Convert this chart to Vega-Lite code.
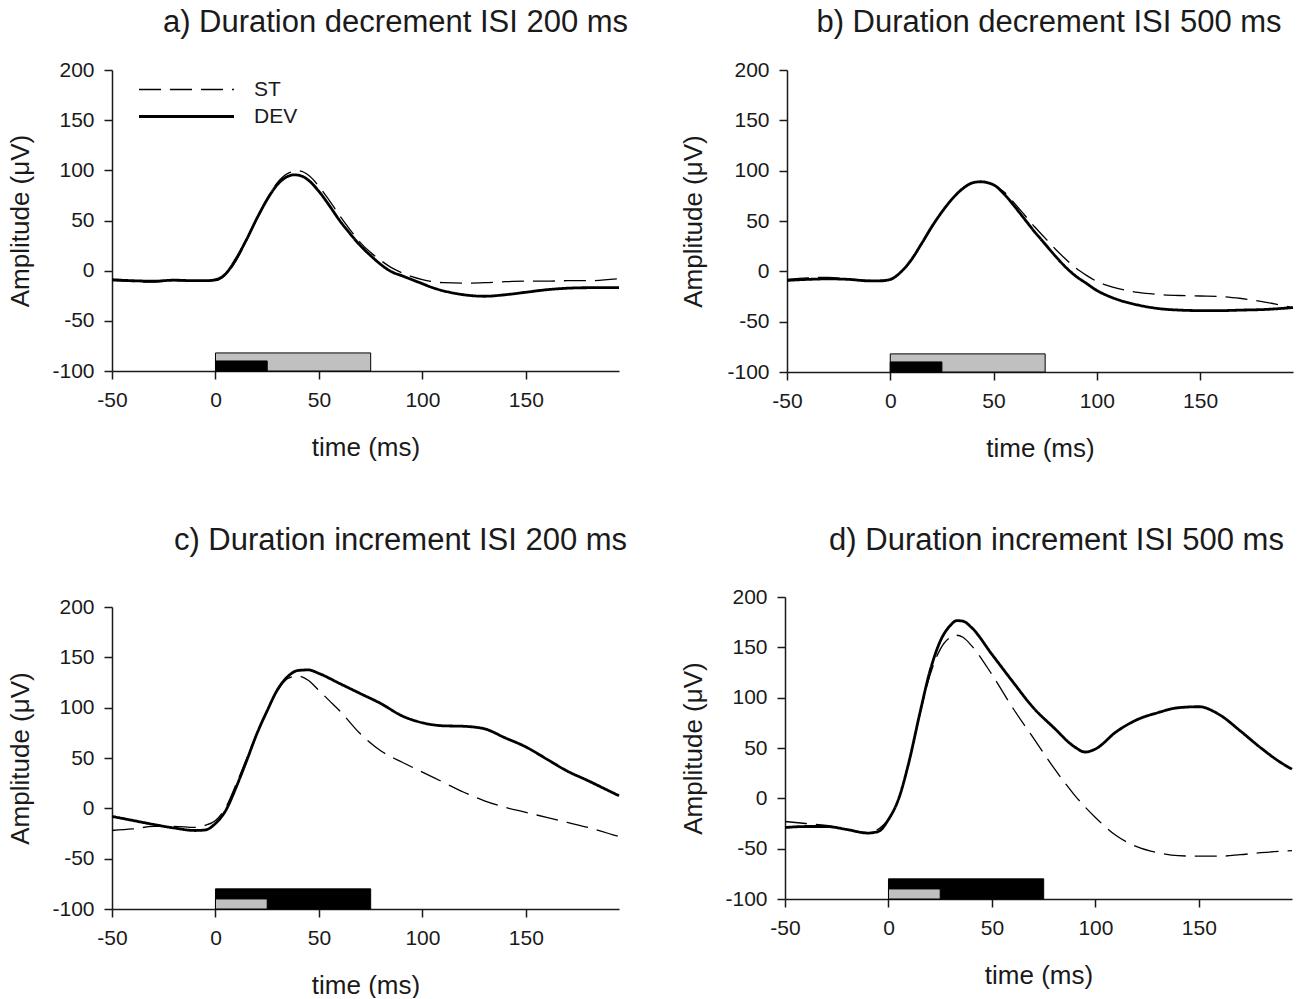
{
  "$schema": "https://vega.github.io/schema/vega-lite/v6.json",
  "background": "white",
  "padding": {"left": 7, "top": 7, "right": 0, "bottom": 0},
  "config": {
    "font": "Liberation Sans",
    "view": {"stroke": null},
    "axis": {"grid": false, "domainColor": "#1a1a1a", "tickColor": "#1a1a1a", "domainWidth": 1.5, "tickWidth": 1.5, "tickSize": 8, "labelFontSize": 21, "labelColor": "#1a1a1a", "labelPadding": 10, "labelFlush": false, "labelOverlap": false, "titleFontSize": 26, "titleFontWeight": "normal", "titleColor": "#1a1a1a", "labelFont": "Liberation Sans", "titleFont": "Liberation Sans", "labelExpr": "replace(datum.label, '−', '-')"},
    "axisX": {"titlePadding": 24},
    "axisY": {"titlePadding": 18},
    "title": {"fontSize": 31, "fontWeight": "normal", "color": "#1a1a1a", "font": "Liberation Sans", "frame": "group", "anchor": "middle"}
  },
  "datasets": {
    "bars": [
      {"panel": "a", "stimulus": "ST", "start": 0, "end": 75, "low": -100, "high": -82},
      {"panel": "a", "stimulus": "DEV", "start": 0, "end": 25, "low": -100, "high": -90},
      {"panel": "b", "stimulus": "ST", "start": 0, "end": 75, "low": -100, "high": -82},
      {"panel": "b", "stimulus": "DEV", "start": 0, "end": 25, "low": -100, "high": -90},
      {"panel": "c", "stimulus": "DEV", "start": 0, "end": 75, "low": -100, "high": -80},
      {"panel": "c", "stimulus": "ST", "start": 0, "end": 25, "low": -100, "high": -90},
      {"panel": "d", "stimulus": "DEV", "start": 0, "end": 75, "low": -100, "high": -80},
      {"panel": "d", "stimulus": "ST", "start": 0, "end": 25, "low": -100, "high": -90}
    ],
    "curves": [
      {"panel":"a","series":"ST","time":-50,"amp":-10},{"panel":"a","series":"ST","time":-40,"amp":-11},{"panel":"a","series":"ST","time":-30,"amp":-11.5},{"panel":"a","series":"ST","time":-20,"amp":-10},{"panel":"a","series":"ST","time":-10,"amp":-10.5},{"panel":"a","series":"ST","time":0,"amp":-10},{"panel":"a","series":"ST","time":5,"amp":-4},{"panel":"a","series":"ST","time":10,"amp":10},{"panel":"a","series":"ST","time":15,"amp":30},{"panel":"a","series":"ST","time":20,"amp":52},{"panel":"a","series":"ST","time":25,"amp":72},{"panel":"a","series":"ST","time":30,"amp":88},{"panel":"a","series":"ST","time":35,"amp":97},{"panel":"a","series":"ST","time":40,"amp":99.5},{"panel":"a","series":"ST","time":45,"amp":95},{"panel":"a","series":"ST","time":50,"amp":84},{"panel":"a","series":"ST","time":55,"amp":70},{"panel":"a","series":"ST","time":60,"amp":55},{"panel":"a","series":"ST","time":65,"amp":41},{"panel":"a","series":"ST","time":70,"amp":28},{"panel":"a","series":"ST","time":75,"amp":18},{"panel":"a","series":"ST","time":80,"amp":10},{"panel":"a","series":"ST","time":85,"amp":3},{"panel":"a","series":"ST","time":90,"amp":-2},{"panel":"a","series":"ST","time":95,"amp":-6},{"panel":"a","series":"ST","time":100,"amp":-9},{"panel":"a","series":"ST","time":105,"amp":-11},{"panel":"a","series":"ST","time":110,"amp":-12},{"panel":"a","series":"ST","time":120,"amp":-12.5},{"panel":"a","series":"ST","time":130,"amp":-12},{"panel":"a","series":"ST","time":140,"amp":-11},{"panel":"a","series":"ST","time":150,"amp":-10.5},{"panel":"a","series":"ST","time":160,"amp":-10.5},{"panel":"a","series":"ST","time":170,"amp":-10},{"panel":"a","series":"ST","time":180,"amp":-10},{"panel":"a","series":"ST","time":195,"amp":-8},
      {"panel":"a","series":"DEV","time":-50,"amp":-9},{"panel":"a","series":"DEV","time":-40,"amp":-10},{"panel":"a","series":"DEV","time":-30,"amp":-10.5},{"panel":"a","series":"DEV","time":-20,"amp":-9.5},{"panel":"a","series":"DEV","time":-10,"amp":-10},{"panel":"a","series":"DEV","time":-5,"amp":-10},{"panel":"a","series":"DEV","time":0,"amp":-9},{"panel":"a","series":"DEV","time":5,"amp":-3},{"panel":"a","series":"DEV","time":10,"amp":12},{"panel":"a","series":"DEV","time":15,"amp":31},{"panel":"a","series":"DEV","time":20,"amp":52},{"panel":"a","series":"DEV","time":25,"amp":71},{"panel":"a","series":"DEV","time":30,"amp":86},{"panel":"a","series":"DEV","time":35,"amp":94},{"panel":"a","series":"DEV","time":38,"amp":95.5},{"panel":"a","series":"DEV","time":42,"amp":94},{"panel":"a","series":"DEV","time":45,"amp":90},{"panel":"a","series":"DEV","time":50,"amp":79},{"panel":"a","series":"DEV","time":55,"amp":65},{"panel":"a","series":"DEV","time":60,"amp":50},{"panel":"a","series":"DEV","time":65,"amp":37},{"panel":"a","series":"DEV","time":70,"amp":25},{"panel":"a","series":"DEV","time":75,"amp":15},{"panel":"a","series":"DEV","time":80,"amp":6},{"panel":"a","series":"DEV","time":85,"amp":-1},{"panel":"a","series":"DEV","time":90,"amp":-5},{"panel":"a","series":"DEV","time":95,"amp":-9},{"panel":"a","series":"DEV","time":100,"amp":-13},{"panel":"a","series":"DEV","time":105,"amp":-17},{"panel":"a","series":"DEV","time":110,"amp":-20},{"panel":"a","series":"DEV","time":120,"amp":-24},{"panel":"a","series":"DEV","time":130,"amp":-25.5},{"panel":"a","series":"DEV","time":140,"amp":-24},{"panel":"a","series":"DEV","time":150,"amp":-21.5},{"panel":"a","series":"DEV","time":160,"amp":-19},{"panel":"a","series":"DEV","time":170,"amp":-17.5},{"panel":"a","series":"DEV","time":180,"amp":-17},{"panel":"a","series":"DEV","time":195,"amp":-17},
      {"panel":"b","series":"ST","time":-50,"amp":-8},{"panel":"b","series":"ST","time":-40,"amp":-6.5},{"panel":"b","series":"ST","time":-30,"amp":-6},{"panel":"b","series":"ST","time":-20,"amp":-8},{"panel":"b","series":"ST","time":-10,"amp":-9},{"panel":"b","series":"ST","time":0,"amp":-8.5},{"panel":"b","series":"ST","time":5,"amp":-1},{"panel":"b","series":"ST","time":10,"amp":10},{"panel":"b","series":"ST","time":15,"amp":26},{"panel":"b","series":"ST","time":20,"amp":43},{"panel":"b","series":"ST","time":25,"amp":59},{"panel":"b","series":"ST","time":30,"amp":72},{"panel":"b","series":"ST","time":35,"amp":82},{"panel":"b","series":"ST","time":40,"amp":88},{"panel":"b","series":"ST","time":44,"amp":89},{"panel":"b","series":"ST","time":50,"amp":86},{"panel":"b","series":"ST","time":55,"amp":79},{"panel":"b","series":"ST","time":60,"amp":68},{"panel":"b","series":"ST","time":65,"amp":56},{"panel":"b","series":"ST","time":70,"amp":44},{"panel":"b","series":"ST","time":75,"amp":33},{"panel":"b","series":"ST","time":80,"amp":22},{"panel":"b","series":"ST","time":85,"amp":12},{"panel":"b","series":"ST","time":90,"amp":3},{"panel":"b","series":"ST","time":95,"amp":-4},{"panel":"b","series":"ST","time":100,"amp":-10},{"panel":"b","series":"ST","time":105,"amp":-14},{"panel":"b","series":"ST","time":110,"amp":-17},{"panel":"b","series":"ST","time":120,"amp":-21},{"panel":"b","series":"ST","time":130,"amp":-23},{"panel":"b","series":"ST","time":140,"amp":-24},{"panel":"b","series":"ST","time":150,"amp":-24.5},{"panel":"b","series":"ST","time":160,"amp":-25},{"panel":"b","series":"ST","time":170,"amp":-27},{"panel":"b","series":"ST","time":180,"amp":-30},{"panel":"b","series":"ST","time":190,"amp":-34},{"panel":"b","series":"ST","time":195,"amp":-36},
      {"panel":"b","series":"DEV","time":-50,"amp":-9},{"panel":"b","series":"DEV","time":-40,"amp":-8},{"panel":"b","series":"DEV","time":-30,"amp":-7.5},{"panel":"b","series":"DEV","time":-20,"amp":-8},{"panel":"b","series":"DEV","time":-10,"amp":-9.5},{"panel":"b","series":"DEV","time":-5,"amp":-9.5},{"panel":"b","series":"DEV","time":0,"amp":-8},{"panel":"b","series":"DEV","time":5,"amp":-1},{"panel":"b","series":"DEV","time":10,"amp":11},{"panel":"b","series":"DEV","time":15,"amp":27},{"panel":"b","series":"DEV","time":20,"amp":44},{"panel":"b","series":"DEV","time":25,"amp":59},{"panel":"b","series":"DEV","time":30,"amp":72},{"panel":"b","series":"DEV","time":35,"amp":82},{"panel":"b","series":"DEV","time":40,"amp":88},{"panel":"b","series":"DEV","time":44,"amp":89},{"panel":"b","series":"DEV","time":48,"amp":87.5},{"panel":"b","series":"DEV","time":50,"amp":86},{"panel":"b","series":"DEV","time":55,"amp":77},{"panel":"b","series":"DEV","time":60,"amp":65},{"panel":"b","series":"DEV","time":65,"amp":52},{"panel":"b","series":"DEV","time":70,"amp":39},{"panel":"b","series":"DEV","time":75,"amp":27},{"panel":"b","series":"DEV","time":80,"amp":15},{"panel":"b","series":"DEV","time":85,"amp":4},{"panel":"b","series":"DEV","time":90,"amp":-5},{"panel":"b","series":"DEV","time":95,"amp":-12},{"panel":"b","series":"DEV","time":100,"amp":-19},{"panel":"b","series":"DEV","time":105,"amp":-24},{"panel":"b","series":"DEV","time":110,"amp":-28},{"panel":"b","series":"DEV","time":120,"amp":-33.5},{"panel":"b","series":"DEV","time":130,"amp":-37},{"panel":"b","series":"DEV","time":140,"amp":-38.5},{"panel":"b","series":"DEV","time":150,"amp":-39},{"panel":"b","series":"DEV","time":160,"amp":-39},{"panel":"b","series":"DEV","time":170,"amp":-38.5},{"panel":"b","series":"DEV","time":180,"amp":-38},{"panel":"b","series":"DEV","time":195,"amp":-36},
      {"panel":"c","series":"ST","time":-50,"amp":-22},{"panel":"c","series":"ST","time":-40,"amp":-20.5},{"panel":"c","series":"ST","time":-30,"amp":-18},{"panel":"c","series":"ST","time":-20,"amp":-18},{"panel":"c","series":"ST","time":-10,"amp":-19},{"panel":"c","series":"ST","time":-5,"amp":-17},{"panel":"c","series":"ST","time":0,"amp":-12},{"panel":"c","series":"ST","time":5,"amp":1},{"panel":"c","series":"ST","time":10,"amp":24},{"panel":"c","series":"ST","time":15,"amp":49},{"panel":"c","series":"ST","time":20,"amp":74},{"panel":"c","series":"ST","time":25,"amp":97},{"panel":"c","series":"ST","time":30,"amp":117},{"panel":"c","series":"ST","time":35,"amp":129},{"panel":"c","series":"ST","time":40,"amp":131.5},{"panel":"c","series":"ST","time":45,"amp":127},{"panel":"c","series":"ST","time":50,"amp":117},{"panel":"c","series":"ST","time":55,"amp":107},{"panel":"c","series":"ST","time":60,"amp":97},{"panel":"c","series":"ST","time":70,"amp":74},{"panel":"c","series":"ST","time":80,"amp":57},{"panel":"c","series":"ST","time":90,"amp":46},{"panel":"c","series":"ST","time":100,"amp":36},{"panel":"c","series":"ST","time":110,"amp":26},{"panel":"c","series":"ST","time":120,"amp":16},{"panel":"c","series":"ST","time":130,"amp":7.5},{"panel":"c","series":"ST","time":140,"amp":1},{"panel":"c","series":"ST","time":150,"amp":-4},{"panel":"c","series":"ST","time":160,"amp":-9},{"panel":"c","series":"ST","time":170,"amp":-14},{"panel":"c","series":"ST","time":180,"amp":-19},{"panel":"c","series":"ST","time":190,"amp":-25},{"panel":"c","series":"ST","time":195,"amp":-28},
      {"panel":"c","series":"DEV","time":-50,"amp":-8},{"panel":"c","series":"DEV","time":-40,"amp":-12},{"panel":"c","series":"DEV","time":-30,"amp":-16},{"panel":"c","series":"DEV","time":-20,"amp":-19.5},{"panel":"c","series":"DEV","time":-10,"amp":-22},{"panel":"c","series":"DEV","time":-5,"amp":-21.5},{"panel":"c","series":"DEV","time":0,"amp":-15},{"panel":"c","series":"DEV","time":5,"amp":-2},{"panel":"c","series":"DEV","time":10,"amp":21},{"panel":"c","series":"DEV","time":15,"amp":47},{"panel":"c","series":"DEV","time":20,"amp":74},{"panel":"c","series":"DEV","time":25,"amp":97},{"panel":"c","series":"DEV","time":30,"amp":118},{"panel":"c","series":"DEV","time":35,"amp":131},{"panel":"c","series":"DEV","time":40,"amp":137},{"panel":"c","series":"DEV","time":45,"amp":137.5},{"panel":"c","series":"DEV","time":50,"amp":134},{"panel":"c","series":"DEV","time":60,"amp":124},{"panel":"c","series":"DEV","time":70,"amp":114},{"panel":"c","series":"DEV","time":80,"amp":104},{"panel":"c","series":"DEV","time":90,"amp":92},{"panel":"c","series":"DEV","time":100,"amp":85},{"panel":"c","series":"DEV","time":110,"amp":82},{"panel":"c","series":"DEV","time":120,"amp":81.5},{"panel":"c","series":"DEV","time":130,"amp":79},{"panel":"c","series":"DEV","time":140,"amp":70},{"panel":"c","series":"DEV","time":150,"amp":61},{"panel":"c","series":"DEV","time":160,"amp":49},{"panel":"c","series":"DEV","time":170,"amp":37},{"panel":"c","series":"DEV","time":180,"amp":27.5},{"panel":"c","series":"DEV","time":190,"amp":17.5},{"panel":"c","series":"DEV","time":195,"amp":12.5},
      {"panel":"d","series":"ST","time":-50,"amp":-23},{"panel":"d","series":"ST","time":-40,"amp":-25},{"panel":"d","series":"ST","time":-30,"amp":-27},{"panel":"d","series":"ST","time":-20,"amp":-31},{"panel":"d","series":"ST","time":-10,"amp":-34},{"panel":"d","series":"ST","time":0,"amp":-21},{"panel":"d","series":"ST","time":5,"amp":0},{"panel":"d","series":"ST","time":10,"amp":37},{"panel":"d","series":"ST","time":15,"amp":82},{"panel":"d","series":"ST","time":20,"amp":122},{"panel":"d","series":"ST","time":25,"amp":148},{"panel":"d","series":"ST","time":30,"amp":160},{"panel":"d","series":"ST","time":33,"amp":162},{"panel":"d","series":"ST","time":36,"amp":160},{"panel":"d","series":"ST","time":40,"amp":152},{"panel":"d","series":"ST","time":50,"amp":123},{"panel":"d","series":"ST","time":60,"amp":90},{"panel":"d","series":"ST","time":70,"amp":60},{"panel":"d","series":"ST","time":80,"amp":30},{"panel":"d","series":"ST","time":90,"amp":3},{"panel":"d","series":"ST","time":100,"amp":-19},{"panel":"d","series":"ST","time":110,"amp":-37},{"panel":"d","series":"ST","time":120,"amp":-48},{"panel":"d","series":"ST","time":130,"amp":-54},{"panel":"d","series":"ST","time":140,"amp":-57},{"panel":"d","series":"ST","time":150,"amp":-57.5},{"panel":"d","series":"ST","time":160,"amp":-57.5},{"panel":"d","series":"ST","time":170,"amp":-56},{"panel":"d","series":"ST","time":180,"amp":-54},{"panel":"d","series":"ST","time":195,"amp":-52},
      {"panel":"d","series":"DEV","time":-50,"amp":-29},{"panel":"d","series":"DEV","time":-40,"amp":-28},{"panel":"d","series":"DEV","time":-30,"amp":-28},{"panel":"d","series":"DEV","time":-20,"amp":-31},{"panel":"d","series":"DEV","time":-10,"amp":-34.5},{"panel":"d","series":"DEV","time":-5,"amp":-33},{"panel":"d","series":"DEV","time":0,"amp":-21},{"panel":"d","series":"DEV","time":5,"amp":0},{"panel":"d","series":"DEV","time":10,"amp":37},{"panel":"d","series":"DEV","time":15,"amp":83},{"panel":"d","series":"DEV","time":20,"amp":126},{"panel":"d","series":"DEV","time":25,"amp":156},{"panel":"d","series":"DEV","time":30,"amp":172},{"panel":"d","series":"DEV","time":33,"amp":176.5},{"panel":"d","series":"DEV","time":36,"amp":176},{"panel":"d","series":"DEV","time":40,"amp":170},{"panel":"d","series":"DEV","time":50,"amp":143},{"panel":"d","series":"DEV","time":60,"amp":116},{"panel":"d","series":"DEV","time":70,"amp":90},{"panel":"d","series":"DEV","time":80,"amp":70},{"panel":"d","series":"DEV","time":90,"amp":51},{"panel":"d","series":"DEV","time":95,"amp":46},{"panel":"d","series":"DEV","time":100,"amp":49},{"panel":"d","series":"DEV","time":110,"amp":66},{"panel":"d","series":"DEV","time":120,"amp":78},{"panel":"d","series":"DEV","time":130,"amp":85},{"panel":"d","series":"DEV","time":140,"amp":90},{"panel":"d","series":"DEV","time":150,"amp":91},{"panel":"d","series":"DEV","time":160,"amp":83},{"panel":"d","series":"DEV","time":170,"amp":67},{"panel":"d","series":"DEV","time":180,"amp":50},{"panel":"d","series":"DEV","time":190,"amp":35},{"panel":"d","series":"DEV","time":195,"amp":29}
    ]
  },
  "resolve": {"scale": {"strokeDash": "independent", "strokeWidth": "independent"}, "legend": {"strokeDash": "independent", "strokeWidth": "independent"}},
  "columns": 2,
  "align": "none",
  "bounds": "full",
  "spacing": {"row": 64, "column": 51},
  "concat": [
    {
      "width": 507, "height": 301,
      "title": {"text": "a) Duration decrement ISI 200 ms", "dx": 30, "offset": 20},
      "layer": [
        {"data": {"name": "bars"}, "transform": [{"filter": "datum.panel === 'a'"}],
         "mark": {"type": "rect", "stroke": "#000", "strokeWidth": 1},
         "encoding": {
           "x": {"field": "start", "type": "quantitative", "title": "time (ms)", "scale": {"domain": [-50, 195], "nice": false, "zero": false}, "axis": {"values": [-50, 0, 50, 100, 150]}},
           "x2": {"field": "end"},
           "y": {"field": "low", "type": "quantitative", "title": "Amplitude (μV)", "scale": {"domain": [-100, 200], "nice": false, "zero": false}, "axis": {"values": [-100, -50, 0, 50, 100, 150, 200], "titlePadding": 18}},
           "y2": {"field": "high"},
           "fill": {"field": "stimulus", "type": "nominal", "scale": {"domain": ["ST", "DEV"], "range": ["#c0c0c0", "#000000"]}, "legend": null}
         }},
        {"data": {"name": "curves"}, "transform": [{"filter": "datum.panel === 'a'"}],
         "mark": {"type": "line", "interpolate": "monotone", "color": "#000"},
         "encoding": {
           "x": {"field": "time", "type": "quantitative", "title": "time (ms)"},
           "y": {"field": "amp", "type": "quantitative", "title": "Amplitude (μV)"},
           "strokeDash": {"field": "series", "type": "nominal", "scale": {"domain": ["ST", "DEV"], "range": [[22, 9], [1, 0]]},
             "legend": {"orient": "none", "legendX": 64, "legendY": 9, "title": null, "symbolType": "M-9.5,0H9.5", "symbolSize": 100, "labelOffset": 57, "labelFontSize": 21, "labelColor": "#1a1a1a", "rowPadding": 5, "symbolStrokeColor": "#000"}},
           "strokeWidth": {"field": "series", "type": "nominal", "scale": {"domain": ["ST", "DEV"], "range": [1.3, 2.8]},
             "legend": {"orient": "none", "legendX": 64, "legendY": 9, "title": null, "symbolType": "M-9.5,0H9.5", "symbolSize": 100, "labelOffset": 57, "labelFontSize": 21, "labelColor": "#1a1a1a", "rowPadding": 5, "symbolStrokeColor": "#000"}}
         }}
      ]
    },
    {
      "width": 506, "height": 302,
      "title": {"text": "b) Duration decrement ISI 500 ms", "dx": 9, "offset": 20},
      "layer": [
        {"data": {"name": "bars"}, "transform": [{"filter": "datum.panel === 'b'"}],
         "mark": {"type": "rect", "stroke": "#000", "strokeWidth": 1},
         "encoding": {
           "x": {"field": "start", "type": "quantitative", "title": "time (ms)", "scale": {"domain": [-50, 195], "nice": false, "zero": false}, "axis": {"values": [-50, 0, 50, 100, 150]}},
           "x2": {"field": "end"},
           "y": {"field": "low", "type": "quantitative", "title": "Amplitude (μV)", "scale": {"domain": [-100, 200], "nice": false, "zero": false}, "axis": {"values": [-100, -50, 0, 50, 100, 150, 200], "titlePadding": 20}},
           "y2": {"field": "high"},
           "fill": {"field": "stimulus", "type": "nominal", "scale": {"domain": ["ST", "DEV"], "range": ["#c0c0c0", "#000000"]}, "legend": null}
         }},
        {"data": {"name": "curves"}, "transform": [{"filter": "datum.panel === 'b'"}],
         "mark": {"type": "line", "interpolate": "monotone", "color": "#000"},
         "encoding": {
           "x": {"field": "time", "type": "quantitative", "title": "time (ms)"},
           "y": {"field": "amp", "type": "quantitative", "title": "Amplitude (μV)"},
           "strokeDash": {"field": "series", "type": "nominal", "scale": {"domain": ["ST", "DEV"], "range": [[22, 9], [1, 0]]}, "legend": null},
           "strokeWidth": {"field": "series", "type": "nominal", "scale": {"domain": ["ST", "DEV"], "range": [1.3, 2.8]}, "legend": null}
         }}
      ]
    },
    {
      "width": 507, "height": 302,
      "title": {"text": "c) Duration increment ISI 200 ms", "dx": 35, "offset": 39},
      "layer": [
        {"data": {"name": "bars"}, "transform": [{"filter": "datum.panel === 'c'"}],
         "mark": {"type": "rect", "stroke": "#000", "strokeWidth": 1},
         "encoding": {
           "x": {"field": "start", "type": "quantitative", "title": "time (ms)", "scale": {"domain": [-50, 195], "nice": false, "zero": false}, "axis": {"values": [-50, 0, 50, 100, 150]}},
           "x2": {"field": "end"},
           "y": {"field": "low", "type": "quantitative", "title": "Amplitude (μV)", "scale": {"domain": [-100, 200], "nice": false, "zero": false}, "axis": {"values": [-100, -50, 0, 50, 100, 150, 200], "titlePadding": 18}},
           "y2": {"field": "high"},
           "fill": {"field": "stimulus", "type": "nominal", "scale": {"domain": ["ST", "DEV"], "range": ["#c0c0c0", "#000000"]}, "legend": null}
         }},
        {"data": {"name": "curves"}, "transform": [{"filter": "datum.panel === 'c'"}],
         "mark": {"type": "line", "interpolate": "monotone", "color": "#000"},
         "encoding": {
           "x": {"field": "time", "type": "quantitative", "title": "time (ms)"},
           "y": {"field": "amp", "type": "quantitative", "title": "Amplitude (μV)"},
           "strokeDash": {"field": "series", "type": "nominal", "scale": {"domain": ["ST", "DEV"], "range": [[22, 9], [1, 0]]}, "legend": null},
           "strokeWidth": {"field": "series", "type": "nominal", "scale": {"domain": ["ST", "DEV"], "range": [1.3, 2.8]}, "legend": null}
         }}
      ]
    },
    {
      "width": 507, "height": 302,
      "title": {"text": "d) Duration increment ISI 500 ms", "dx": 18, "offset": 29},
      "layer": [
        {"data": {"name": "bars"}, "transform": [{"filter": "datum.panel === 'd'"}],
         "mark": {"type": "rect", "stroke": "#000", "strokeWidth": 1},
         "encoding": {
           "x": {"field": "start", "type": "quantitative", "title": "time (ms)", "scale": {"domain": [-50, 195], "nice": false, "zero": false}, "axis": {"values": [-50, 0, 50, 100, 150]}},
           "x2": {"field": "end"},
           "y": {"field": "low", "type": "quantitative", "title": "Amplitude (μV)", "scale": {"domain": [-100, 200], "nice": false, "zero": false}, "axis": {"values": [-100, -50, 0, 50, 100, 150, 200], "titlePadding": 18}},
           "y2": {"field": "high"},
           "fill": {"field": "stimulus", "type": "nominal", "scale": {"domain": ["ST", "DEV"], "range": ["#c0c0c0", "#000000"]}, "legend": null}
         }},
        {"data": {"name": "curves"}, "transform": [{"filter": "datum.panel === 'd'"}],
         "mark": {"type": "line", "interpolate": "monotone", "color": "#000"},
         "encoding": {
           "x": {"field": "time", "type": "quantitative", "title": "time (ms)"},
           "y": {"field": "amp", "type": "quantitative", "title": "Amplitude (μV)"},
           "strokeDash": {"field": "series", "type": "nominal", "scale": {"domain": ["ST", "DEV"], "range": [[22, 9], [1, 0]]}, "legend": null},
           "strokeWidth": {"field": "series", "type": "nominal", "scale": {"domain": ["ST", "DEV"], "range": [1.3, 2.8]}, "legend": null}
         }}
      ]
    }
  ]
}
